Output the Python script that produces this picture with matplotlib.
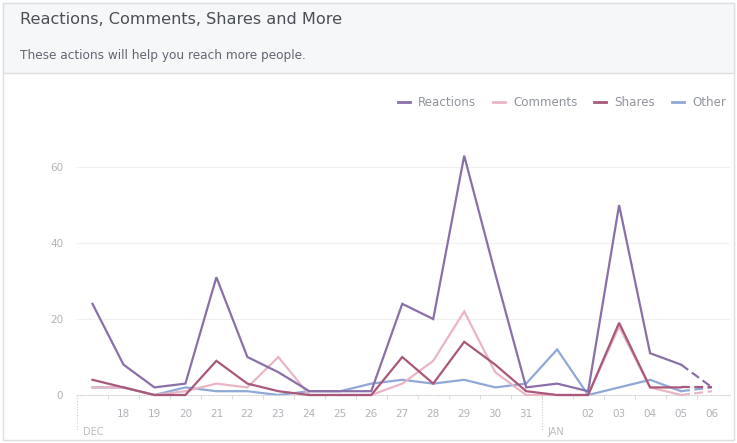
import matplotlib.pyplot as plt
from matplotlib.patches import Rectangle
from matplotlib.lines import Line2D

# days Dec 17 .. Jan 06
days = ['17', '18', '19', '20', '21', '22', '23', '24', '25', '26', '27',
        '28', '29', '30', '31', '01', '02', '03', '04', '05', '06']
tick_labels = ['', '18', '19', '20', '21', '22', '23', '24', '25', '26', '27',
               '28', '29', '30', '31', '', '02', '03', '04', '05', '06']
reactions = [24, 8, 2, 3, 31, 10, 6, 1, 1, 1, 24, 20, 63, 32, 2, 3, 1, 50, 11, 8, 2]
comments = [2, 2, 0, 1, 3, 2, 10, 0, 0, 0, 3, 9, 22, 6, 0, 0, 0, 18, 2, 0, 1]
shares = [4, 2, 0, 0, 9, 3, 1, 0, 0, 0, 10, 3, 14, 8, 1, 0, 0, 19, 2, 2, 2]
other = [2, 2, 0, 2, 1, 1, 0, 1, 1, 3, 4, 3, 4, 2, 3, 12, 0, 2, 4, 1, 2]

series = [('Reactions', reactions, '#8a70a8'),
          ('Comments', comments, '#e9b6c6'),
          ('Shares', shares, '#a9587c'),
          ('Other', other, '#8fa8d8')]

fig = plt.figure(figsize=(7.37, 4.43), dpi=100)
W, H = 737, 443

# card background / header band
fig.patches.append(Rectangle((3 / W, 3 / H), 731 / W, 437 / H, transform=fig.transFigure,
                             facecolor='white', edgecolor='#dddfe2', lw=1, zorder=-2))
fig.patches.append(Rectangle((3 / W, 1 - 73 / H), 731 / W, 70 / H, transform=fig.transFigure,
                             facecolor='#f6f7f9', edgecolor='#dddfe2', lw=1, zorder=-1))
fig.text(20 / W, 1 - 20 / H, 'Reactions, Comments, Shares and More', fontsize=11.6,
         color='#4b4f56', va='center', ha='left')
fig.text(20 / W, 1 - 55 / H, 'These actions will help you reach more people.', fontsize=8.7,
         color='#616770', va='center', ha='left')

ax = fig.add_axes([77 / W, 1 - 395 / H, (730 - 77) / W, (395 - 150) / H])
ax.set_zorder(2)
ax.patch.set_alpha(0)
x = list(range(len(days)))
zs = {'Reactions': 5, 'Comments': 3, 'Shares': 4, 'Other': 2}
for name, vals, col in series:
    ax.plot(x[:-1], vals[:-1], color=col, lw=1.6, zorder=zs[name], clip_on=False,
            solid_joinstyle='miter')
    ax.plot(x[-2:], vals[-2:], color=col, lw=1.6, ls=(0, (4, 2)), zorder=zs[name], clip_on=False)

ax.set_xlim(-0.5, 20.58)
ax.set_ylim(0, 64.5)
ax.set_yticks([0, 20, 40, 60])
ax.set_yticklabels(['0', '20', '40', '60'])
for yv in [20, 40, 60]:
    ax.axhline(yv, color='#f0f0f0', lw=0.8, zorder=0)
ax.set_xticks(x)
ax.set_xticklabels(tick_labels)
ax.set_xticks([i + 0.5 for i in range(20)], minor=True)
ax.tick_params(axis='x', which='major', length=0, pad=10, labelsize=7.5, labelcolor='#b0b3b8')
ax.tick_params(axis='x', which='minor', length=3, color='#dcdcdc', width=0.8)
ax.tick_params(axis='y', length=0, pad=10, labelsize=7.5, labelcolor='#b0b3b8')
for s in ['top', 'right', 'left']:
    ax.spines[s].set_visible(False)
ax.spines['bottom'].set_color('#d6d6d6')
ax.spines['bottom'].set_linestyle((0, (1, 1.5)))
ax.spines['bottom'].set_linewidth(0.8)

# month dividers
for xv, lab in [(-0.5, 'DEC'), (14.5, 'JAN')]:
    ax.plot([xv, xv], [0, -0.145], transform=ax.get_xaxis_transform(), color='#cfcfcf',
            lw=0.8, ls=(0, (1, 1.5)), clip_on=False)
    ax.text(xv + 0.2, -0.15, lab, transform=ax.get_xaxis_transform(), fontsize=7,
            color='#b8bbc0', ha='left', va='center')

handles = [Line2D([], [], color=col, lw=2) for _, _, col in series]
fig.legend(handles, [n for n, _, _ in series], loc='center right',
           bbox_to_anchor=(737 / W, 1 - 103 / H), ncol=4, frameon=False, fontsize=8.6,
           handlelength=1.0, handletextpad=0.7, columnspacing=1.4, labelcolor='#90949c')

fig.savefig('out.png', dpi=100)
